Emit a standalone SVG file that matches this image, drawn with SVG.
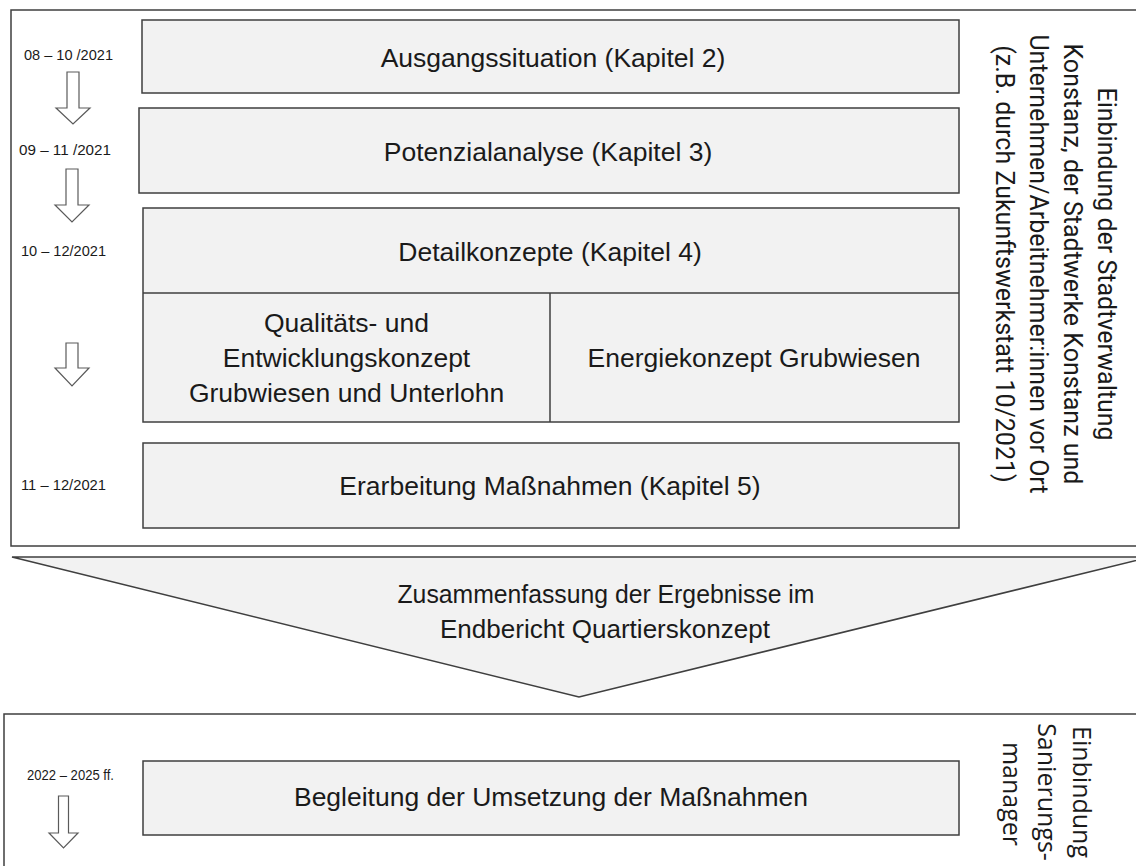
<svg xmlns="http://www.w3.org/2000/svg" width="1136" height="866" viewBox="0 0 1136 866">
<style>
.frame{fill:#ffffff;stroke:#3f3f3f;stroke-width:1.5}
.box{fill:#f2f2f2;stroke:#3f3f3f;stroke-width:1.5}
.arrow{fill:#ffffff;stroke:#5a5a5a;stroke-width:1.2}
.t{font-family:"Liberation Sans Narrow","Liberation Sans",Arial,sans-serif;font-size:26.5px;fill:#1a1a1a;text-anchor:middle}
.d{font-family:"Liberation Sans Narrow","Liberation Sans",Arial,sans-serif;font-size:15px;fill:#1a1a1a}
.v{font-family:Roboto,"Liberation Sans",sans-serif;font-size:25px;fill:#1a1a1a;text-anchor:middle}
.v2{font-family:"Open Sans","Liberation Sans",sans-serif;font-size:25px;fill:#1a1a1a;text-anchor:middle}
</style>
<rect width="1136" height="866" fill="#ffffff"/>
<g id="frame-top"><rect class="frame" x="11" y="10" width="1135" height="536"/></g>
<g id="frame-bottom"><rect class="frame" x="4" y="714" width="1145" height="170"/></g>

<g id="connectors">
<path class="arrow" d="M67,72 H79 V108 H90 L73,124 L56,108 H67 Z"/>
<path class="arrow" d="M66,169 H78 V205 H89 L72,222 L55,205 H66 Z"/>
<path class="arrow" d="M66,343 H78 V368 H89 L72,386 L55,368 H66 Z"/>
<path class="arrow" d="M58.5,796 H68.5 V833 H78 L63.5,848 L49,833 H58.5 Z"/>
</g>

<g id="dates">
<text class="d" x="24" y="60" textLength="89" lengthAdjust="spacingAndGlyphs">08 – 10 /2021</text>
<text class="d" x="19" y="155" textLength="92" lengthAdjust="spacingAndGlyphs">09 – 11 /2021</text>
<text class="d" x="21" y="256" textLength="85" lengthAdjust="spacingAndGlyphs">10 – 12/2021</text>
<text class="d" x="21" y="490" textLength="85" lengthAdjust="spacingAndGlyphs">11 – 12/2021</text>
<text class="d" x="27" y="780" textLength="87" lengthAdjust="spacingAndGlyphs">2022 – 2025 ff.</text>
</g>

<g id="node-ausgang">
<rect class="box" x="142" y="20" width="817" height="73"/>
<text class="t" x="553" y="66.5">Ausgangssituation (Kapitel 2)</text>
</g>
<g id="node-potenzial">
<rect class="box" x="139" y="108" width="820" height="85"/>
<text class="t" x="548" y="160.5">Potenzialanalyse (Kapitel 3)</text>
</g>
<g id="node-detail">
<rect class="box" x="143" y="208" width="816" height="214"/>
<line x1="143" y1="293" x2="959" y2="293" stroke="#3f3f3f" stroke-width="1.5"/>
<line x1="550" y1="293" x2="550" y2="422" stroke="#3f3f3f" stroke-width="1.5"/>
<text class="t" x="550" y="260.5">Detailkonzepte (Kapitel 4)</text>
</g>
<g id="node-qualitaet">
<text class="t" x="346.5" y="332">Qualitäts- und</text>
<text class="t" x="346.5" y="367">Entwicklungskonzept</text>
<text class="t" x="346.5" y="402">Grubwiesen und Unterlohn</text>
</g>
<g id="node-energie">
<text class="t" x="754" y="367">Energiekonzept Grubwiesen</text>
</g>
<g id="node-massnahmen">
<rect class="box" x="143" y="443" width="816" height="85"/>
<text class="t" x="550" y="495">Erarbeitung Maßnahmen (Kapitel 5)</text>
</g>
<g id="node-einbindung-top">
<text class="v" transform="translate(1098,264) rotate(90)">Einbindung der Stadtverwaltung</text>
<text class="v" transform="translate(1064,264) rotate(90)">Konstanz, der Stadtwerke Konstanz und</text>
<text class="v" transform="translate(1030,264) rotate(90)">Unternehmen/Arbeitnehmer:innen vor Ort</text>
<text class="v" transform="translate(996,264) rotate(90)">(z.B. durch Zukunftswerkstatt 10/2021)</text>
</g>

<g id="node-zusammenfassung">
<polygon class="box" points="12,557 1150,557 579,697"/>
<text class="t" x="606" y="603" textLength="417" lengthAdjust="spacingAndGlyphs">Zusammenfassung der Ergebnisse im</text>
<text class="t" x="605" y="638" textLength="330" lengthAdjust="spacingAndGlyphs">Endbericht Quartierskonzept</text>
</g>

<g id="node-begleitung">
<rect class="box" x="143" y="761" width="816" height="74"/>
<text class="t" x="551" y="806">Begleitung der Umsetzung der Maßnahmen</text>
</g>
<g id="node-einbindung-bottom">
<text class="v2" transform="translate(1073,792) rotate(90)">Einbindung</text>
<text class="v2" transform="translate(1038,792) rotate(90)">Sanierungs-</text>
<text class="v2" transform="translate(1003,794) rotate(90)">manager</text>
</g>
</svg>
